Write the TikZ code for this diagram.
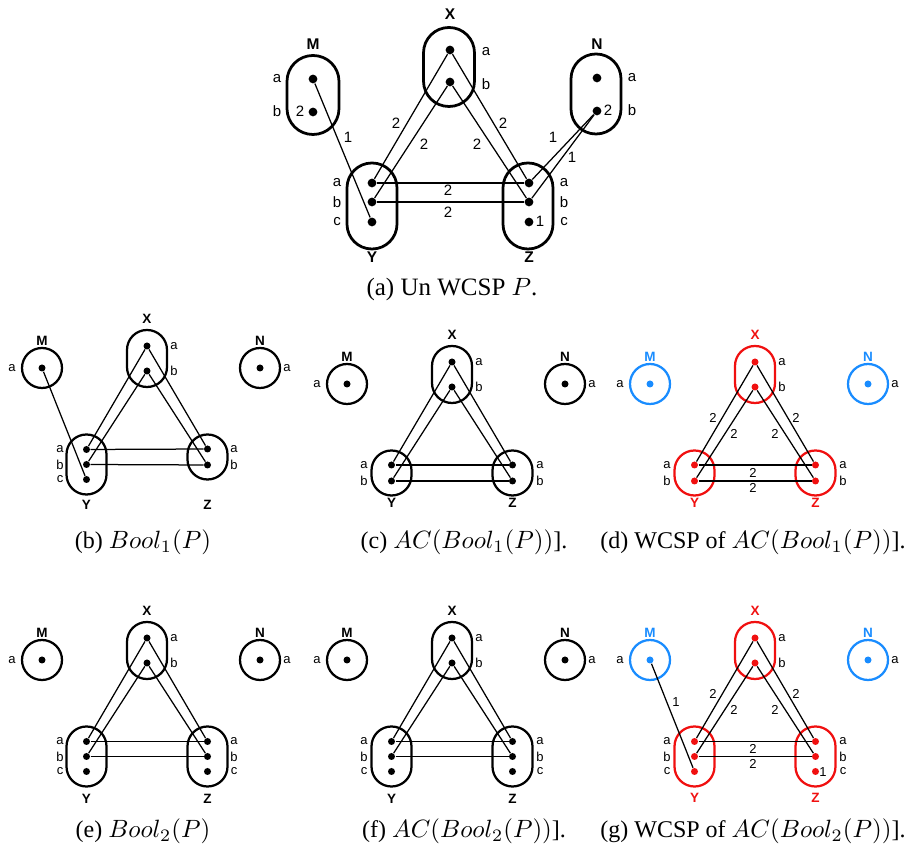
\documentclass[tikz,border=0pt]{standalone}
\usepackage[no-math]{fontspec}
\setmainfont{Liberation Serif}
\setsansfont{Liberation Sans}
\definecolor{wred}{RGB}{240,16,16}
\definecolor{wblue}{RGB}{25,140,255}
\tikzset{
  dot/.style={circle, fill, inner sep=0pt, minimum size=2.8pt},
  bigdot/.style={circle, fill, inner sep=0pt, minimum size=3.5pt},
  caps/.style n args={2}{draw, line width=0.9pt, rounded corners=#1*0.199pt, minimum width=#1*0.4pt, minimum height=#2*0.4pt, inner sep=0pt},
  bigcaps/.style n args={2}{caps={#1}{#2}, line width=1.1pt},
  ring/.style={draw, circle, line width=0.9pt, minimum size=16pt, inner sep=0pt},
  lbl/.style={font=\fontsize{5.2}{6}\selectfont\sffamily, inner sep=0pt},
  biglbl/.style={font=\fontsize{6}{7}\selectfont\sffamily, inner sep=0pt},
  vname/.style={font=\fontsize{5.4}{6}\selectfont\sffamily\bfseries, inner sep=0pt},
  bigvname/.style={font=\fontsize{6.2}{7}\selectfont\sffamily\bfseries, inner sep=0pt},
  edge/.style={line width=0.5pt},
  capt/.style={font=\fontsize{9.6}{12}\selectfont, anchor=base, inner sep=0pt},
}
% X, M, N for the small figures; #1 prefix, #2 colour of X,Y,Z, #3 colour of M,N
\newcommand{\XMN}[3]{%
  \node[caps={40}{57}, draw=#2] (#1X) at (0,12.5) {};
  \node[dot, #2] (#1Xa) at (0,0) {};
  \node[dot, #2] (#1Xb) at (0,25) {};
  \node[vname, #2] (#1Xn) at (0,-27) {X};
  \node[lbl] (#1Xla) at (27,0) {a};
  \node[lbl] (#1Xlb) at (27,25) {b};
  \node[ring, draw=#3] (#1M) at (-105,22) {};
  \node[dot, #3] (#1Ma) at (-105,22) {};
  \node[vname, #3] (#1Mn) at (-105,-5) {M};
  \node[lbl] (#1Mla) at (-135,22) {a};
  \node[ring, draw=#3] (#1N) at (113,22) {};
  \node[dot, #3] (#1Na) at (113,22) {};
  \node[vname, #3] (#1Nn) at (113,-5) {N};
  \node[lbl] (#1Nla) at (140,22) {a};
}
% #1 prefix, #2 colour, #3 name letter, #4 x of dots, #5 x of labels
\newcommand{\Vtwo}[5]{%
  \node[caps={40}{45}, draw=#2] (#1#3) at (#4,111) {};
  \node[dot, #2] (#1#3a) at (#4,103) {};
  \node[dot, #2] (#1#3b) at (#4,119) {};
  \node[lbl] (#1#3la) at (#5,103) {a};
  \node[lbl] (#1#3lb) at (#5,119) {b};
}
\newcommand{\Vthree}[5]{%
  \node[caps={40}{60}, draw=#2] (#1#3) at (#4,118.5) {};
  \node[dot, #2] (#1#3a) at (#4,103.5) {};
  \node[dot, #2] (#1#3b) at (#4,118.5) {};
  \node[dot, #2] (#1#3c) at (#4,133.5) {};
  \node[lbl] (#1#3la) at (#5,103.5) {a};
  \node[lbl] (#1#3lb) at (#5,118.5) {b};
  \node[lbl] (#1#3lc) at (#5,133.5) {c};
}
% names of Y and Z: #1 prefix, #2 colour, #3 y
\newcommand{\YZnames}[3]{%
  \node[vname, #2] (#1Yn) at (-60.5,#3) {Y};
  \node[vname, #2] (#1Zn) at (60.5,#3) {Z};
}
\newcommand{\tri}[1]{%
  \draw[edge] (#1Xa) -- (#1Ya);
  \draw[edge] (#1Xb) -- (#1Yb);
  \draw[edge] (#1Xa) -- (#1Za);
  \draw[edge] (#1Xb) -- (#1Zb);
  \draw[edge] (#1Ya) -- (#1Za);
  \draw[edge] (#1Yb) -- (#1Zb);
}
\newcommand{\triw}[1]{%
  \node[lbl] (#1w1) at (-42,56) {2};
  \node[lbl] (#1w2) at (-21,71.5) {2};
  \node[lbl] (#1w3) at (41,56) {2};
  \node[lbl] (#1w4) at (20,71.5) {2};
  \node[lbl] (#1w5) at (-2,111) {2};
  \node[lbl] (#1w6) at (-2,126) {2};
}
\begin{document}
\begin{tikzpicture}[x=0.4pt,y=-0.4pt]
\useasboundingbox (0,0) rectangle (907,844);

% ---------------- (a) ----------------
\node[bigcaps={51}{79}] (X) at (449,67) {};
\node[bigdot] (Xa) at (450,50) {};
\node[bigdot] (Xb) at (450,82) {};
\node[bigvname] (Xn) at (450,14) {X};
\node[biglbl] (Xla) at (486,52) {a};
\node[biglbl] (Xlb) at (486,84) {b};

\node[bigcaps={52}{79}] (M) at (313,95) {};
\node[bigdot] (Ma) at (313,79) {};
\node[bigdot] (Mb) at (313,112) {};
\node[bigvname] (Mn) at (313,44) {M};
\node[biglbl] (Mla) at (277,79) {a};
\node[biglbl] (Mlb) at (277,111) {b};
\node[biglbl] (Mw) at (300,111) {2};

\node[bigcaps={50}{80}] (N) at (596,94) {};
\node[bigdot] (Na) at (597,78) {};
\node[bigdot] (Nb) at (597,111) {};
\node[bigvname] (Nn) at (597,44) {N};
\node[biglbl] (Nla) at (632,78) {a};
\node[biglbl] (Nlb) at (632,110) {b};
\node[biglbl] (Nw) at (608,110) {2};

\node[bigcaps={50}{86}] (Y) at (372,206) {};
\node[bigdot] (Ya) at (372,183) {};
\node[bigdot] (Yb) at (372,202) {};
\node[bigdot] (Yc) at (372,222) {};
\node[bigvname] (Yn) at (372,257) {Y};
\node[biglbl] (Yla) at (337,183) {a};
\node[biglbl] (Ylb) at (337,202) {b};
\node[biglbl] (Ylc) at (337,222) {c};

\node[bigcaps={50}{86}] (Z) at (528,206) {};
\node[bigdot] (Za) at (529,183) {};
\node[bigdot] (Zb) at (529,202) {};
\node[bigdot] (Zc) at (529,222) {};
\node[bigvname] (Zn) at (529,257) {Z};
\node[biglbl] (Zla) at (564,183) {a};
\node[biglbl] (Zlb) at (564,202) {b};
\node[biglbl] (Zlc) at (564,222) {c};
\node[biglbl] (Zw) at (540,221) {1};

\draw[edge] (Ma) -- (Yc);
\draw[edge] (Xa) -- (Ya);
\draw[edge] (Xb) -- (Yb);
\draw[edge] (Xa) -- (Za);
\draw[edge] (Xb) -- (Zb);
\draw[edge] (Ya) -- (Za);
\draw[edge] (Yb) -- (Zb);
\draw[edge] (Nb) -- (Za);
\draw[edge] (Nb) -- (Zb);
\node[biglbl] (w1) at (396,123) {2};
\node[biglbl] (w2) at (424,144) {2};
\node[biglbl] (w3) at (503,123) {2};
\node[biglbl] (w4) at (477,144) {2};
\node[biglbl] (w5) at (448,190) {2};
\node[biglbl] (w6) at (448,212) {2};
\node[biglbl] (w7) at (348,137) {1};
\node[biglbl] (w8) at (553,137) {1};
\node[biglbl] (w9) at (572,157) {1};
\node[capt, font=\fontsize{10}{12}\selectfont] (capa) at (452,296) {(a) Un WCSP $P$.};

% ---------------- (b) ----------------
\begin{scope}[shift={(147,346)}]
\XMN{b}{black}{black}
\Vthree{b}{black}{Y}{-60.5}{-87}
\Vtwo{b}{black}{Z}{60.5}{87}
\YZnames{b}{black}{159}
\tri{b}
\draw[edge] (bMa) -- (bYc);
\end{scope}
\node[capt] (capb) at (143,549) {(b) $Bool_1(P)$};

% ---------------- (c) ----------------
\begin{scope}[shift={(452,362)}]
\XMN{c}{black}{black}
\Vtwo{c}{black}{Y}{-60.5}{-88}
\Vtwo{c}{black}{Z}{60.5}{88}
\YZnames{c}{black}{141}
\tri{c}
\end{scope}
\node[capt] (capc) at (464,549) {(c) $AC(Bool_1(P))$].};

% ---------------- (d) ----------------
\begin{scope}[shift={(755,362)}]
\XMN{d}{wred}{wblue}
\Vtwo{d}{wred}{Y}{-60.5}{-88}
\Vtwo{d}{wred}{Z}{60.5}{88}
\YZnames{d}{wred}{141}
\tri{d}
\triw{d}
\end{scope}
\node[capt] (capd) at (753,549) {(d) WCSP of $AC(Bool_1(P))$].};

% ---------------- (e) ----------------
\begin{scope}[shift={(147,638)}]
\XMN{e}{black}{black}
\Vthree{e}{black}{Y}{-60.5}{-87}
\Vthree{e}{black}{Z}{60.5}{87}
\YZnames{e}{black}{161}
\tri{e}
\end{scope}
\node[capt] (cape) at (143,838) {(e) $Bool_2(P)$};

% ---------------- (f) ----------------
\begin{scope}[shift={(452,638)}]
\XMN{f}{black}{black}
\Vthree{f}{black}{Y}{-60.5}{-88}
\Vthree{f}{black}{Z}{60.5}{88}
\YZnames{f}{black}{161}
\tri{f}
\end{scope}
\node[capt] (capf) at (464,838) {(f) $AC(Bool_2(P))$].};

% ---------------- (g) ----------------
\begin{scope}[shift={(755,638)}]
\XMN{g}{wred}{wblue}
\Vthree{g}{wred}{Y}{-60.5}{-88}
\Vthree{g}{wred}{Z}{60.5}{88}
\YZnames{g}{wred}{160}
\tri{g}
\triw{g}
\draw[edge] (gMa) -- (gYc);
\node[lbl] (gw7) at (-79,64) {1};
\node[lbl] (gw8) at (68,134) {1};
\end{scope}
\node[capt] (capg) at (753,838) {(g) WCSP of $AC(Bool_2(P))$].};
\end{tikzpicture}
\end{document}
